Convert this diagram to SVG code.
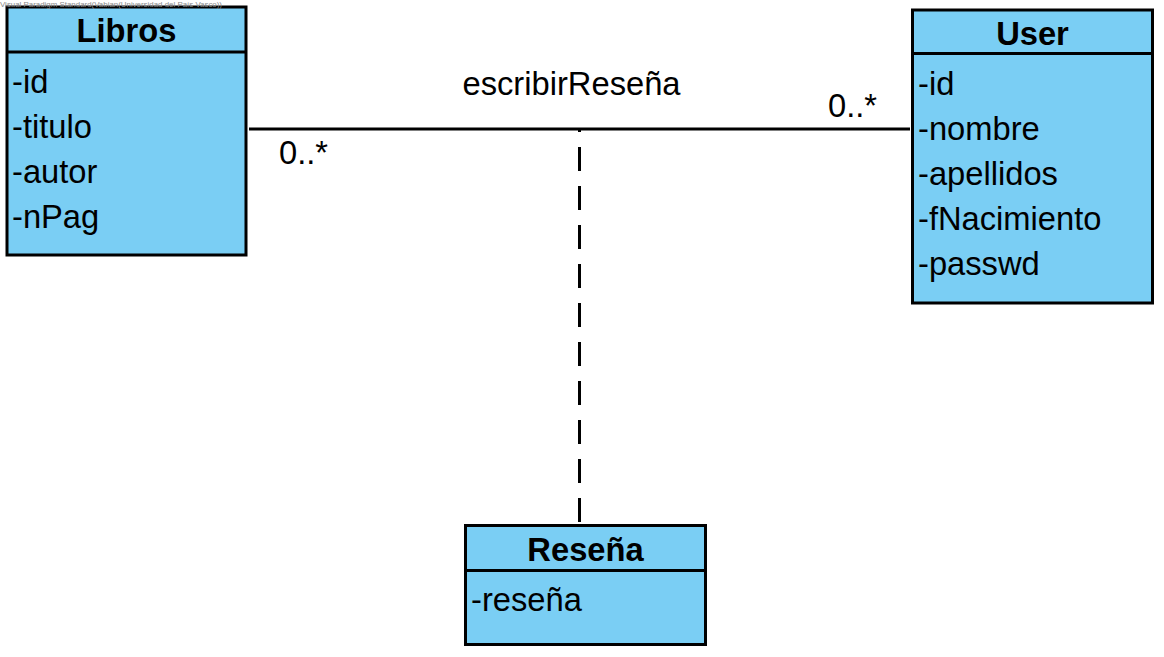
<svg xmlns="http://www.w3.org/2000/svg" width="1164" height="657" viewBox="0 0 1164 657">
<style>
.box{fill:#7ACEF4;stroke:#000;stroke-width:3}
.sep{stroke:#000;stroke-width:3}
.title{font-family:"Liberation Sans",Arial,sans-serif;font-weight:bold;font-size:32.7px;fill:#000;text-anchor:middle}
.attr{font-family:"Liberation Sans",Arial,sans-serif;font-size:32.7px;fill:#000}
.lbl{font-family:"Liberation Sans",Arial,sans-serif;font-size:32.7px;fill:#000}
.wm{font-family:"Liberation Sans",Arial,sans-serif;font-size:8px;fill:#8a8a8a}
.conn{stroke:#000;stroke-width:3;fill:none}
</style>
<rect width="1164" height="657" fill="#fff"/>
<g id="connectors">
<line class="conn" x1="249" y1="129" x2="910" y2="129"/>
<line class="conn" x1="579.5" y1="522" x2="579.5" y2="130" stroke-dasharray="24 15"/>
</g>
<g id="Libros">
<rect class="box" x="7" y="7" width="239" height="248"/>
<line class="sep" x1="7" y1="52" x2="246" y2="52"/>
<text class="title" x="126.5" y="42">Libros</text>
<text class="attr" x="12" y="93">-id</text>
<text class="attr" x="12" y="138">-titulo</text>
<text class="attr" x="12" y="183">-autor</text>
<text class="attr" x="12" y="228">-nPag</text>
</g>
<g id="User">
<rect class="box" x="912.5" y="10" width="240" height="293"/>
<line class="sep" x1="912.5" y1="53.5" x2="1152.5" y2="53.5"/>
<text class="title" x="1032.5" y="45">User</text>
<text class="attr" x="918" y="95">-id</text>
<text class="attr" x="918" y="140">-nombre</text>
<text class="attr" x="918" y="185">-apellidos</text>
<text class="attr" x="918" y="230">-fNacimiento</text>
<text class="attr" x="918" y="275">-passwd</text>
</g>
<g id="Resena">
<rect class="box" x="465.5" y="525.5" width="240" height="119"/>
<line class="sep" x1="465.5" y1="570.5" x2="705.5" y2="570.5"/>
<text class="title" x="585.5" y="561">Reseña</text>
<text class="attr" x="471" y="611">-reseña</text>
</g>
<g id="labels">
<text class="lbl" x="462.5" y="95">escribirReseña</text>
<text class="lbl" x="279" y="164">0..*</text>
<text class="lbl" x="828" y="117">0..*</text>
</g>
<text class="wm" x="0" y="7" textLength="222" lengthAdjust="spacingAndGlyphs">Visual Paradigm Standard(Vabian(Universidad del País Vasco))</text>
</svg>
